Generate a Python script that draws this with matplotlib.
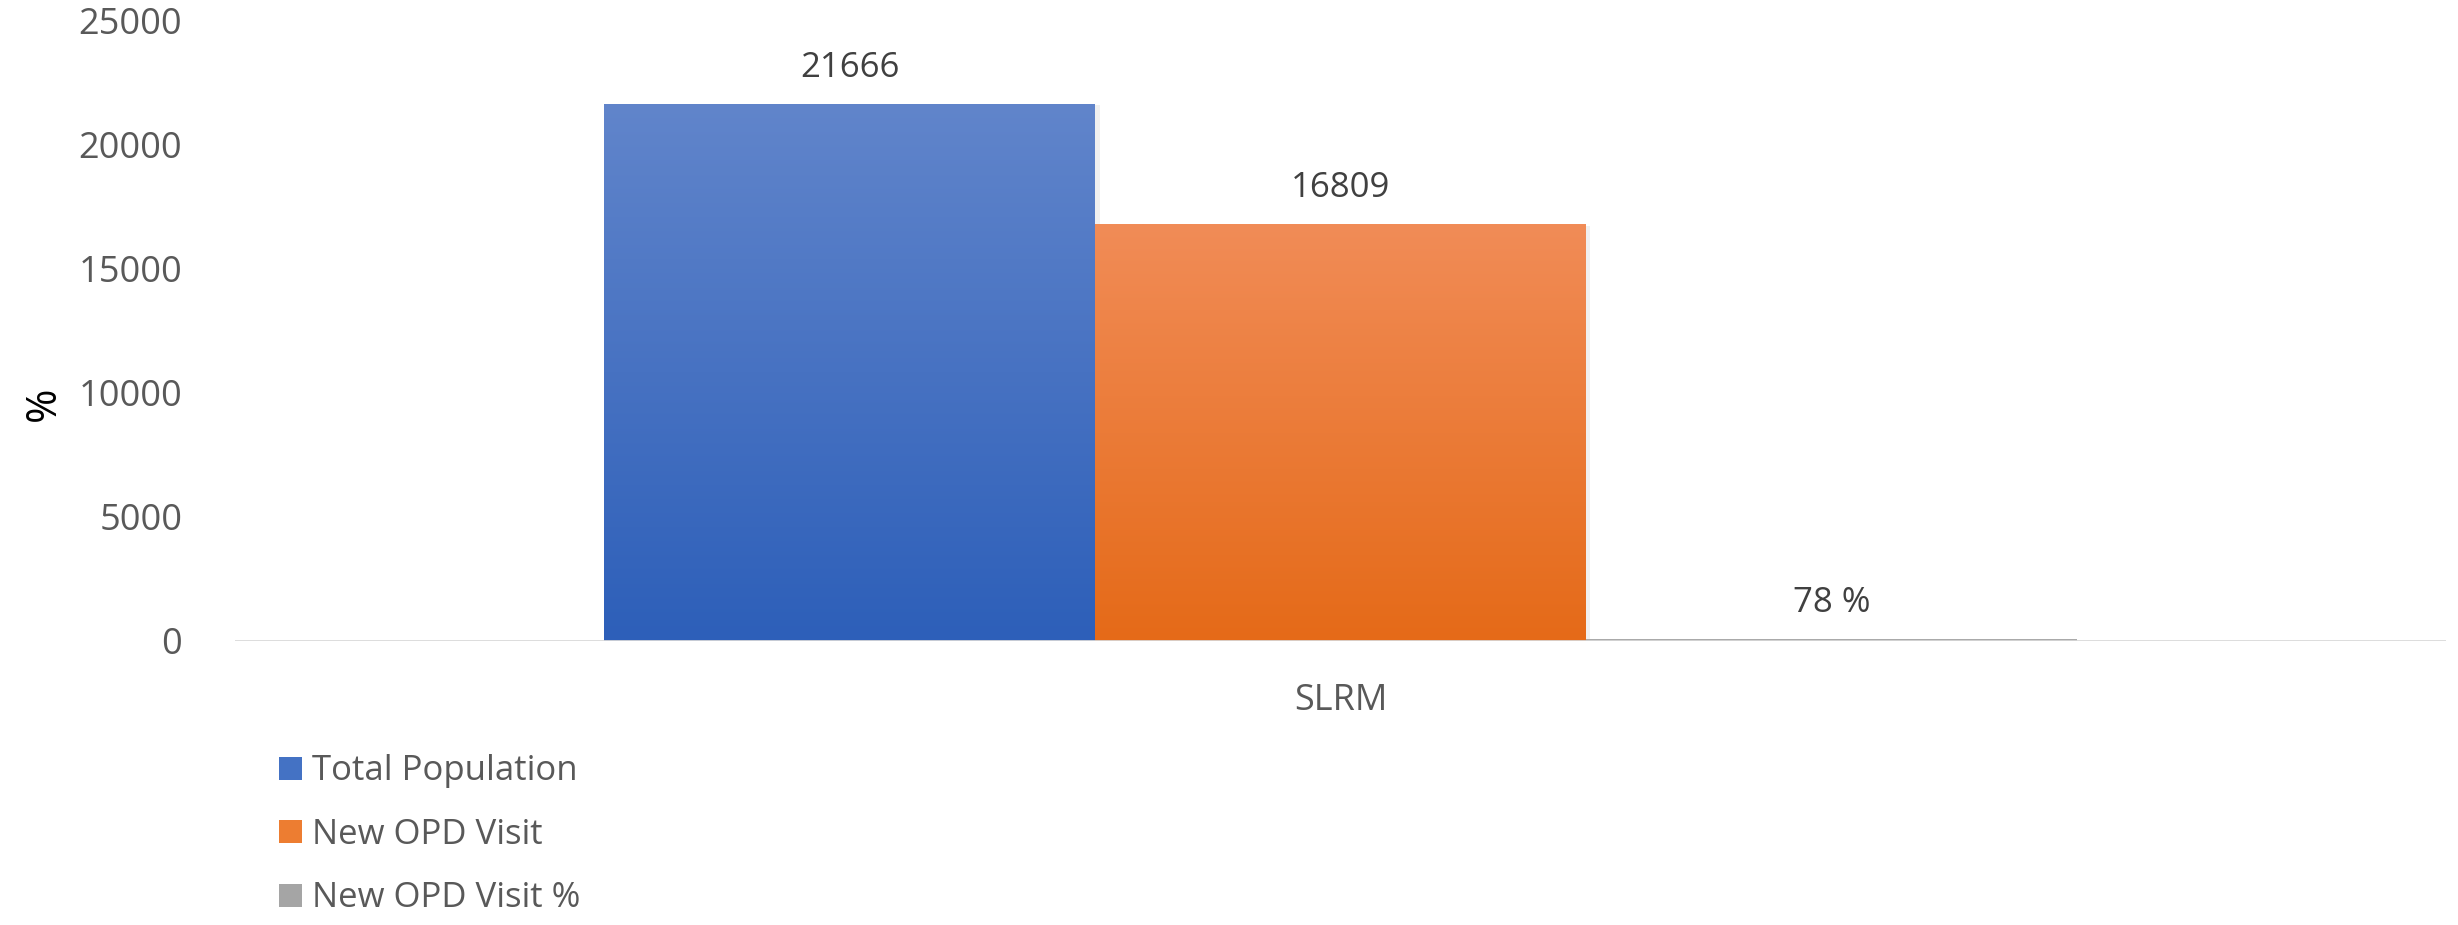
import matplotlib
matplotlib.use('Agg')

import matplotlib.pyplot as plt
import numpy as np
from matplotlib.colors import LinearSegmentedColormap
from matplotlib.patches import Patch

categories = ["SLRM"]
series_names = ["Total Population", "New OPD Visit", "New OPD Visit %"]
values = [21666, 16809, 78]
value_labels = ["21666", "16809", "78 %"]
y_ticks = [0, 5000, 10000, 15000, 20000, 25000]

# gradient top -> bottom per series
grad_colors = [("#6185CB", "#2D5FB9"), ("#F18C57", "#E56A18"), ("#B4B4B4", "#8E8E8E")]
mid_colors = ["#4472C4", "#ED7D31", "#A5A5A5"]

TEXT_GREY = "#595959"
LABEL_GREY = "#404040"

plt.rcParams['font.family'] = ['Open Sans', 'DejaVu Sans']

fig = plt.figure(figsize=(24.58, 9.25), dpi=100)
ax = fig.add_axes([235 / 2458, 1 - 641 / 925, (2446 - 235) / 2458, 620 / 925])

width = 0.222
offsets = (np.arange(len(values)) - 1) * width
x0 = 0

for i, (val, off) in enumerate(zip(values, offsets)):
    bar = ax.bar(x0 + off, val, width=width, color='none', edgecolor='none', zorder=2)[0]
    cmap = LinearSegmentedColormap.from_list(f"g{i}", [grad_colors[i][1], grad_colors[i][0]])
    grad = np.linspace(0, 1, 256).reshape(-1, 1)
    im = ax.imshow(grad, cmap=cmap, aspect='auto', origin='lower',
                   extent=[bar.get_x(), bar.get_x() + bar.get_width(), 0, val], zorder=2)
    im.set_clip_path(bar)
    # soft shadow on right side
    ax.bar(x0 + off + 0.002, val, width=width, bottom=-60, color='#000000', alpha=0.06,
           edgecolor='none', zorder=1)
    ax.annotate(value_labels[i], (x0 + off, val), xytext=(0, 36), textcoords='offset pixels',
                ha='center', va='center', fontsize=25, color=LABEL_GREY,
                family=['Liberation Sans Narrow', 'Open Sans', 'DejaVu Sans'])

ax.axhline(0, color='#D9D9D9', lw=2, zorder=3)
ax.set_xlim(-0.5, 0.5)
ax.set_ylim(0, 25000)
ax.set_yticks(y_ticks)
ax.set_yticklabels([str(t) for t in y_ticks], fontsize=26, color=TEXT_GREY)
ax.set_xticks([x0])
ax.set_xticklabels(categories, fontsize=26, color=TEXT_GREY)
ax.tick_params(axis='both', length=0)
ax.tick_params(axis='y', pad=38)
ax.tick_params(axis='x', pad=30)
for s in ax.spines.values():
    s.set_visible(False)

fig.text(44 / 2458, 1 - 404 / 925, "%", rotation=90, ha='center', va='center',
         fontsize=30, color='black')

handles = [Patch(facecolor=c, edgecolor='none') for c in mid_colors]
fig.legend(handles, series_names, loc='upper left', bbox_to_anchor=(262 / 2458, 1 - 737 / 925),
           frameon=False, fontsize=25, labelcolor=TEXT_GREY, handlelength=0.65,
           handleheight=0.65, handletextpad=0.3, labelspacing=0.85, borderpad=0)

fig.savefig("out.png", dpi=100, facecolor='white')
